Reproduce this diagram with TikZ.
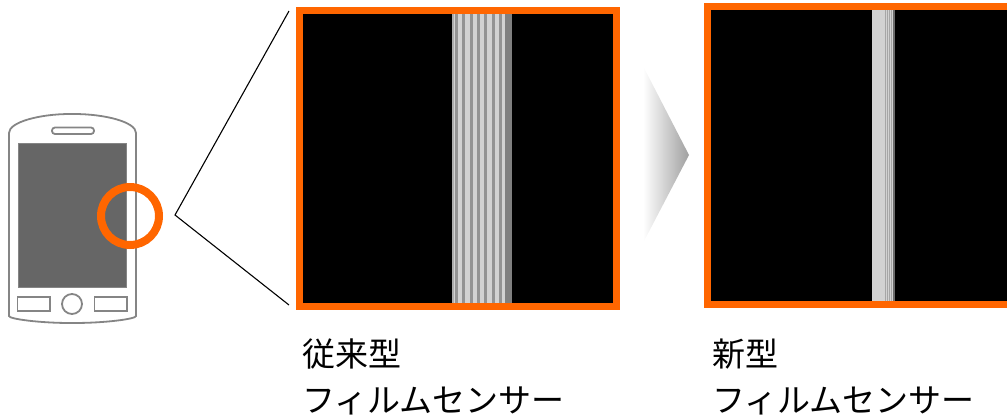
\documentclass[tikz,border=0pt]{standalone}
\usepackage{fontspec}
\setmainfont{Noto Sans CJK JP}
\definecolor{sensororange}{HTML}{FF6600}
\definecolor{phonegray}{HTML}{858585}
\definecolor{screengray}{HTML}{666666}
\tikzset{
    sensorframe/.style={draw=sensororange,line width=7pt,fill=black,inner sep=0pt,anchor=north west},
    phoneline/.style={draw=phonegray,line width=1.8pt},
    lc/.style={anchor=north west,align=left,inner sep=0pt,font=\fontsize{33}{46}\selectfont},
}
\begin{document}
\begin{tikzpicture}[x=1pt,y=-1pt]
    \useasboundingbox (0,0) rectangle (1007,416);
    % phone
    \draw[phoneline,rounded corners=2pt] (9,135) .. controls (9,122) and (40,114) .. (72,114) .. controls (105,114) and (136,122) .. (136,135) -- (136,314) .. controls (136,319) and (105,323) .. (72,323) .. controls (40,323) and (9,319) .. (9,314) -- cycle;
    \draw[phoneline,rounded corners=3pt] (52,127.5) rectangle (94,134);
    \draw[phoneline,fill=screengray,line width=0.8pt] (18.5,143) rectangle (126.5,287);
    \draw[phoneline] (17.5,297) rectangle (50,311);
    \draw[phoneline] (94.5,297) rectangle (127,311);
    \node[phoneline,circle,minimum size=20pt,inner sep=0pt] (homekey) at (72,304) {};
    \node[circle,draw=sensororange,line width=8pt,minimum size=58pt,inner sep=0pt] (lens) at (130,216) {};
    % zoom lines
    \coordinate (apex) at (175,215);
    \coordinate (zoomtop) at (289,11);
    \coordinate (zoombot) at (289,305);
    \draw[line width=1.1pt] (zoomtop) -- (apex) -- (zoombot);
    % old sensor
    \node[sensorframe,minimum width=317pt,minimum height=296pt] (oldframe) at (296,7) {};
    \fill[gray!35] (452,14) rectangle (505,303);
    \foreach \i in {0,...,6} {
        \fill[gray!85] (455+7.3*\i,14) rectangle ++(3,289);
    }
    \fill[gray!50!white!90!black] (452,14) rectangle (453.5,303);
    \fill[gray] (505,14) rectangle (512,303);
    % arrow
    \shade[left color=white,right color=gray!75] (643,66) coordinate (arrowtop) -- (689,155) coordinate (arrowtip) -- (643,243) coordinate (arrowbot) -- cycle;
    % new sensor
    \node[sensorframe,minimum width=320pt,minimum height=298pt] (newframe) at (704,3) {};
    \fill[gray!35] (872,10) rectangle (895,301);
    \foreach \a in {885,887,889,891} {
        \fill[gray!70] (\a,10) rectangle ++(0.8,291);
    }
    \fill[gray!85!black] (893,10) rectangle (894.5,301);
    % labels
    \node[lc] (oldlabel) at (302,339) {従来型\\フィルムセンサー};
    \node[lc] (newlabel) at (712,339) {新型\\フィルムセンサー};
\end{tikzpicture}
\end{document}
